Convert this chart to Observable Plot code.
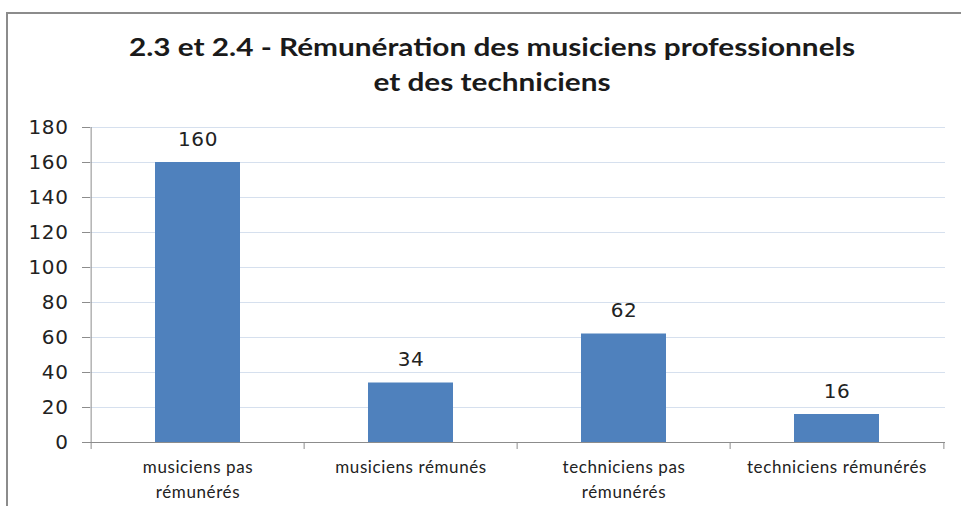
<!DOCTYPE html>
<html><head><meta charset="utf-8">
<script src="https://cdn.jsdelivr.net/npm/d3@7"></script>
<script src="https://cdn.jsdelivr.net/npm/@observablehq/plot@0.6"></script>
<style>
html,body{margin:0;padding:0;background:#fff;}
#wrap{position:relative;width:961px;height:506px;overflow:hidden;}
#border{position:absolute;left:6px;top:12px;right:-4px;bottom:-4px;border-left:2px solid #8c8c8c;border-top:2px solid #8c8c8c;}
#title{position:absolute;left:2px;width:980px;top:29px;text-align:center;font:bold 24px Lato, sans-serif;line-height:35px;color:#1a1a1a;transform:scaleX(1.24);transform-origin:490px 0;}
#chart{position:absolute;left:0;top:0;}
#chart svg text{letter-spacing:0.6px;}
</style></head>
<body><div id="wrap"><div id="border"></div><div id="title">2.3 et 2.4 - Rémunération des musiciens professionnels<br>et des techniciens</div><div id="chart"></div></div>
<script>
const categories = ["musiciens pas rémunérés", "musiciens rémunés", "techniciens pas rémunérés", "techniciens rémunérés"];
const categoryLabels = ["musiciens pas\nrémunérés", "musiciens rémunés", "techniciens pas\nrémunérés", "techniciens rémunérés"];
const values = [160, 34, 62, 16];
const yTicks = [0, 20, 40, 60, 80, 100, 120, 140, 160, 180];

const W = 961, H = 506, mL = 90, mR = 16, mT = 127, mB = 64;
const step = (W - mL - mR) / categories.length;
const data = categories.map((c, i) => ({cat: c, label: categoryLabels[i], value: values[i]}));
const axisColor = "#8c8c8c";

const chart = Plot.plot({
  width: W, height: H,
  marginLeft: mL, marginRight: mR, marginTop: mT, marginBottom: mB,
  style: {background: "transparent", overflow: "visible"},
  x: {type: "band", domain: categories, paddingInner: 0.6, paddingOuter: 0.3, axis: null},
  y: {domain: [0, 180], axis: null},
  marks: [
    Plot.ruleY(yTicks.filter(d => d > 0), {stroke: "#d6e0ee", strokeWidth: 1}),
    Plot.barY(data, {x: "cat", y: "value", fill: "#4f81bd"}),
    Plot.ruleY([0], {stroke: axisColor, strokeWidth: 1}),
    Plot.ruleX([categories[0]], {dx: -step / 2, y1: 0, y2: 180, stroke: axisColor}),
    Plot.ruleX(categories, {dx: -step / 2, y1: 0, y2: 0, insetBottom: -7, stroke: axisColor}),
    Plot.ruleX([categories[categories.length - 1]], {dx: step / 2, y1: 0, y2: 0, insetBottom: -7, stroke: axisColor}),
    Plot.axisY(yTicks, {label: null, tickSize: 8, tickPadding: 14, stroke: axisColor, fontSize: 20, fontFamily: "DejaVu Sans", fill: "#222"}),
    Plot.text(data, {x: "cat", y: "value", text: d => String(d.value), lineAnchor: "bottom", dy: -17, fontSize: 20, fontFamily: "DejaVu Sans", fill: "#222"}),
    Plot.text(data, {x: "cat", text: "label", frameAnchor: "bottom", lineAnchor: "top", dy: 13, lineHeight: 1.45, fontSize: 17, fontFamily: "Lato", fill: "#222"})
  ]
});
document.getElementById("chart").append(chart);
</script></body></html>
